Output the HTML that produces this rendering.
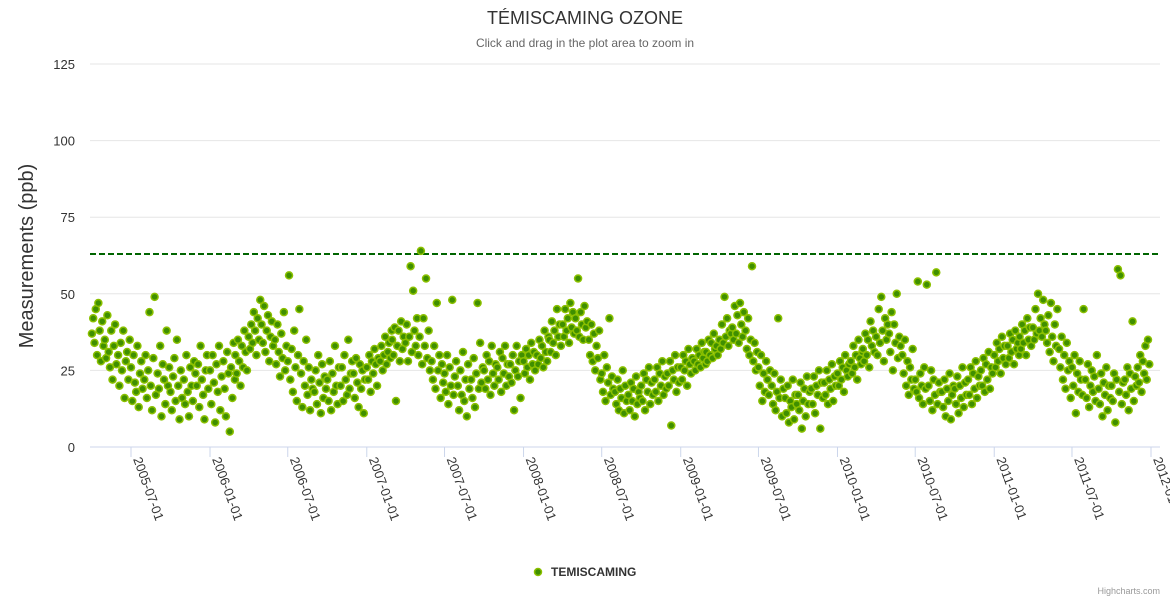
<!DOCTYPE html>
<html><head><meta charset="utf-8"><style>
html,body{margin:0;padding:0;background:#fff;}
svg{display:block;font-family:"Liberation Sans",sans-serif;}
</style></head><body>
<svg id="chart" width="1170" height="600">
<text x="585" y="24" text-anchor="middle" font-size="18" fill="#333">TÉMISCAMING OZONE</text>
<text x="585" y="47" text-anchor="middle" font-size="12" fill="#666">Click and drag in the plot area to zoom in</text>
<text transform="translate(33,256) rotate(-90)" text-anchor="middle" font-size="20" fill="#333">Measurements (ppb)</text>
<g id="grid"></g><g id="xaxis"></g><g id="pts"></g>
<g><circle cx="538" cy="572" r="3.5" fill="#3f8f00" stroke="#8bc000" stroke-width="1.5"/><text x="551" y="576" font-size="12" font-weight="bold" fill="#333">TEMISCAMING</text></g>
<text x="1160" y="594" text-anchor="end" font-size="9" fill="#999">Highcharts.com</text>
</svg>
<script>
const yTicks=[0,25,50,75,100,125];
const xTickLabels=["2005-07-01","2006-01-01","2006-07-01","2007-01-01","2007-07-01","2008-01-01","2008-07-01","2009-01-01","2009-07-01","2010-01-01","2010-07-01","2011-01-01","2011-07-01","2012-01-01"];
const threshold=63;
const startYear=2005, startMonth=4;
const values=[
37,42,34,45,30,47,38,28,41,33,35,29,43,31,26,38,22,33,40,27,30,20,34,25,38,16,28,31,22,35,
26,15,30,21,18,33,13,24,28,19,22,30,16,25,44,20,12,29,49,17,24,19,33,10,27,22,14,38,20,26,
18,12,23,29,15,35,20,9,25,16,22,14,30,18,10,26,20,15,28,24,20,27,13,33,22,17,9,25,30,19,
25,14,30,21,8,27,18,33,12,23,28,19,10,31,24,5,26,16,34,22,30,24,35,28,20,33,26,38,31,25,
36,32,40,34,44,38,30,42,35,48,40,34,46,31,38,43,28,36,41,33,35,27,40,31,23,37,29,44,25,33,
28,56,22,32,18,38,26,15,30,45,24,13,28,20,35,17,26,12,22,19,18,25,14,30,21,11,27,16,23,19,
22,15,28,12,24,18,33,20,14,26,20,26,15,30,22,17,35,19,24,28,24,16,29,21,13,27,19,25,11,22,
26,22,30,18,28,24,32,27,20,29,28,33,25,30,36,27,31,34,29,38,35,30,39,15,33,38,28,41,32,36,
34,40,28,36,59,31,51,38,33,42,30,36,64,27,42,33,55,29,38,25,28,22,33,19,47,25,30,16,27,21,
24,18,30,14,26,20,48,17,23,28,20,12,25,17,31,15,22,10,27,19,22,16,29,13,24,47,19,34,21,26,
25,19,30,22,28,17,33,24,20,27,26,22,31,18,29,24,33,20,27,23,27,21,30,12,25,33,23,28,16,30,
28,24,32,26,30,22,34,27,31,25,30,27,35,29,33,26,38,31,28,36,35,31,41,34,38,30,45,36,40,33,
40,36,45,38,42,34,47,39,44,37,42,38,55,36,44,40,35,46,39,41,35,30,40,28,37,25,33,29,38,22,
24,18,30,15,26,21,42,17,23,19,18,14,22,12,19,16,25,11,20,15,17,12,21,15,19,10,23,14,18,16,
20,15,24,12,22,18,26,14,21,17,22,18,26,15,24,20,28,17,23,19,24,20,28,7,25,22,30,18,26,21,
26,22,30,25,28,20,32,27,24,29,28,25,32,27,30,26,34,29,31,27,31,28,35,30,34,29,37,32,33,30,
35,32,40,34,49,36,42,33,38,37,39,35,46,37,43,34,47,40,36,44,38,32,42,30,35,59,28,34,25,31,
26,20,30,15,24,18,28,22,17,25,20,14,24,12,18,42,16,22,10,19,16,11,20,8,15,13,22,9,17,14,
17,12,21,6,15,19,10,23,14,18,19,14,23,11,20,17,25,6,21,16,21,17,25,14,22,19,27,15,23,20,
24,20,28,22,26,18,30,25,23,27,28,24,33,26,30,22,35,29,27,31,32,28,37,30,35,26,41,33,38,31,
36,30,45,34,49,38,28,42,35,40,37,31,44,25,40,34,50,29,36,33,30,24,35,20,28,17,26,22,32,19,
22,18,54,16,24,20,14,26,19,53,20,15,25,12,22,17,57,14,21,18,18,13,22,10,19,15,24,9,17,20,
19,14,23,11,20,16,26,13,21,17,22,17,26,14,24,19,28,16,23,20,25,20,29,18,27,22,31,19,26,24,
30,26,34,28,32,24,36,29,33,27,33,29,37,31,35,27,38,32,34,30,36,32,40,34,38,30,42,35,39,33,
39,35,45,37,50,38,42,36,48,40,38,34,43,31,47,36,28,40,33,45,32,26,36,22,30,19,34,25,28,16,
26,20,30,11,24,18,28,22,17,45,22,16,27,13,20,25,18,23,15,30,19,14,24,10,21,17,26,12,20,16,
20,15,24,8,22,58,18,56,14,21,22,17,26,12,24,19,41,15,23,20,26,21,30,18,28,24,33,22,35,27
];
const NS="http://www.w3.org/2000/svg";
const t0=Date.UTC(2005,6,1), t1=Date.UTC(2012,0,1);
function xS(t){return 131+(t-t0)/(t1-t0)*(1151-131);}
function yS(v){return 447-v*(447-64)/125;}
function mk(tag,attrs,parent){const e=document.createElementNS(NS,tag);for(const k in attrs)e.setAttribute(k,attrs[k]);parent.appendChild(e);return e;}
const grid=document.getElementById('grid');
yTicks.forEach(v=>{
  const l=mk('line',{x1:90,x2:1160,y1:yS(v),y2:yS(v),stroke:v===0?'#ccd6eb':'#e6e6e6'},grid);
  
  
  const t=mk('text',{x:75,y:yS(v)+5,'text-anchor':'end','font-size':13,fill:'#333'},grid);
  t.textContent=v;
  
  
});
const th=mk('line',{x1:90,x2:1160,y1:yS(threshold),y2:yS(threshold),stroke:'#006400','stroke-width':2,'stroke-dasharray':'6,3'},grid);


const xa=document.getElementById('xaxis');
xTickLabels.forEach(s=>{
  const p=s.split('-').map(Number);const x=xS(Date.UTC(p[0],p[1]-1,p[2]));
  const tk=mk('line',{x1:x,x2:x,y1:447,y2:457,stroke:'#ccd6eb'},xa);
  
  
  const t=mk('text',{x:0,y:0,'font-size':13,fill:'#333',transform:`translate(${x+2},${459}) rotate(70)`},xa);
  t.textContent=s;
  
  
});
const pts=document.getElementById('pts');
values.forEach((v,i)=>{
  const m=Math.floor(i/10), d=1+3*(i%10);
  const t=Date.UTC(startYear,startMonth-1+m,d);
  const c=mk('circle',{cx:xS(t),cy:yS(v),r:3.5,fill:'#3f8f00',stroke:'#8bc000','stroke-width':1.5},pts);
  
  
});
</script>
</body></html>
